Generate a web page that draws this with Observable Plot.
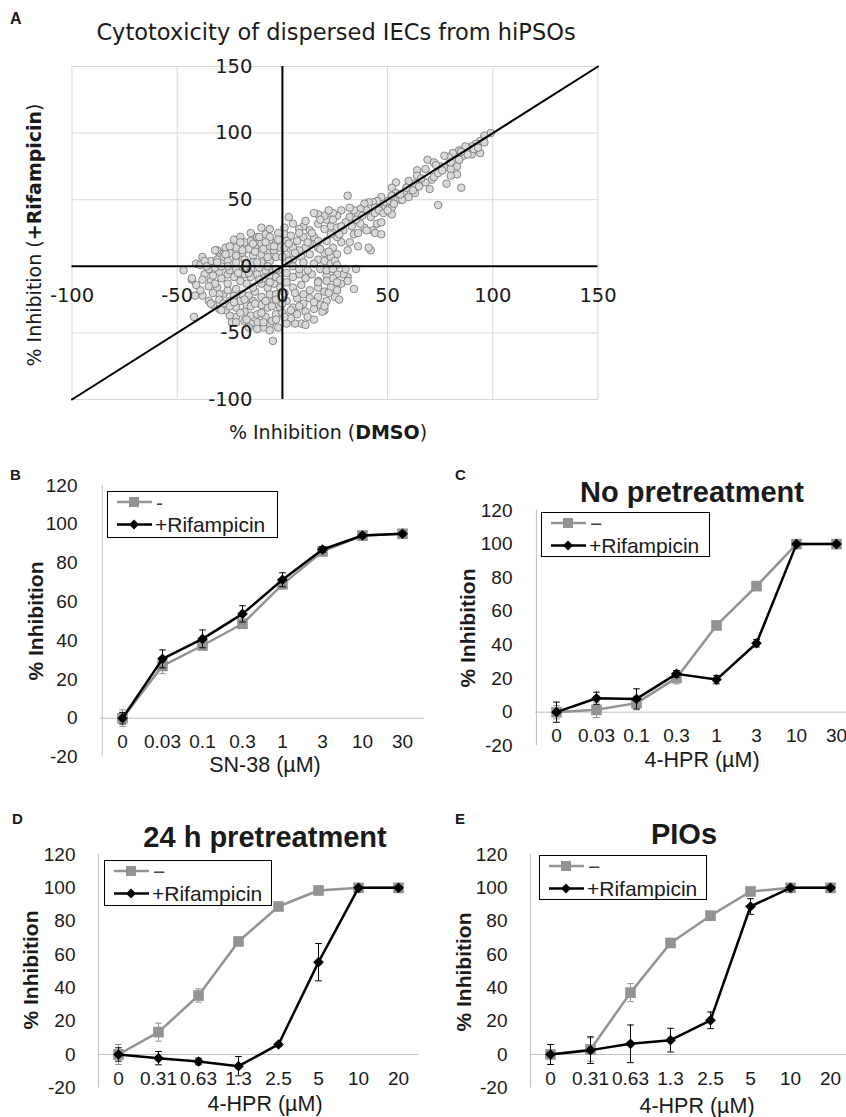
<!DOCTYPE html>
<html><head><meta charset="utf-8">
<script src="https://cdn.jsdelivr.net/npm/d3@7"></script>
<script src="https://cdn.jsdelivr.net/npm/@observablehq/plot@0.6"></script>
<style>
html,body{margin:0;padding:0;background:#fff;}
body{width:846px;height:1117px;position:relative;overflow:hidden;font-family:"Liberation Sans",Arial,sans-serif;color:#1a1a1a;}
.abs{position:absolute;line-height:1;white-space:nowrap;}
.c{transform:translate(-50%,-50%);}
.rot{transform:translate(-50%,-50%) rotate(-90deg);}
.plab{font-weight:bold;font-size:15px;}
.legend{position:absolute;border:1px solid #000;background:#fff;box-sizing:border-box;overflow:visible;}
</style></head><body>
<script>
// ---------- Panel A data: % inhibition (DMSO, +Rifampicin) ----------
const scatterPoints = [
[99,100],[96,98],[94,94],[92,92],[90,90],[88,89],[86,87],[84,87],[81,85],[79,82],[77,83],[94,85],[90,84],[86,83],[84,80],[83,75],[83,69],[85,59],[78,62],[74,46],
[69,80],[72,78],[75,75],[77,74],[80,73],[80,68],[70,58],[71,65],[68,73],[64,72],[64,68],[66,65],[63,62],[63,55],[60,64],[59,59],[58,54],[56,50],[54,63],[52,59],
[54,55],[52,53],[50,49],[48,47],[52,44],[52,39],[48,43],[47,52],[45,49],[43,48],[41,48],[39,47],[45,32],[47,33],[43,27],[42,12],[41,14],[44,44],[40,42],[37,43],
[36,39],[34,42],[31,53],[32,37],[30,33],[32,44],[28,42],[26,38],[24,40],[21,35],[20,38],[17,39],[15,40],[17,32],[23,30],[26,29],[29,27],[34,24],[36,25],[39,29],
[40,27],[44,25],[47,24],[32,18],[36,15],[31,12],[28,18],[26,22],[23,24],[21,19],[24,14],[26,9],[23,7],[20,10],[17,14],[15,22],[13,27],[10,30],[8,28],[5,32],
[3,37],[1,29],[1,24],[4,23],[7,19],[10,22],[13,17],[17,19],[11,14],[8,12],[5,14],[2,9],[5,5],[9,7],[13,9],[17,5],[20,4],[23,2],[25,4],[26,1],[22,42],
[31,-8],[29,-6],[26,-6],[24,-9],[21,-7],[17,-11],[14,-6],[11,-9],[8,-6],[5,-8],[2,-12],[5,-16],[9,-14],[13,-18],[17,-16],[20,-19],[23,-16],[26,-18],[28,-13],[31,-11],
[25,-23],[21,-26],[18,-29],[20,-33],[15,-32],[11,-34],[7,-36],[5,-31],[2,-26],[7,-24],[10,-28],[13,-24],[17,-23],[9,-43],[6,-43],[4,-39],[2,-43],[35,-2],[34,-17],[11,-44],
[19,-34],[20,-30],
[-4.5,-56],[-2,-46],[-6,-44],[-9,-46],[-12,-42],[-15,-43],[-18,-41],[-22,-38],[-25,-37],[-27,-33],[-30,-32],[-33,-29],[-35,-26],[-38,-22],[-39,-18],[-41,-14],[-42,-38],[-43,-10],[-47,-3],[-38,7],
[-41,2],[-37,-6],[-34,-11],[-31,-16],[-28,-21],[-25,-26],[-22,-31],[-18,-34],[-15,-37],[-12,-36],[-8,-38],[-5,-41],[-3,-36],[-1,-31],[-4,-26],[-7,-31],[-10,-29],[-14,-26],[-17,-29],[-20,-26],
[-23,-22],[-26,-18],[-30,-21],[-32,-13],[-29,-9],[-26,-13],[-22,-17],[-19,-21],[-16,-22],[-13,-19],[-10,-23],[-6,-21],[-3,-21],[-1,-16],[-4,-13],[-7,-16],[-10,-13],[-14,-16],[-17,-13],[-20,-11],
[-23,-8],[-26,-6],[-30,-4],[-33,-7],[-35,-2],[-32,-1],[-29,0],[-25,-3],[-22,-2],[-18,-6],[-15,-8],[-12,-6],[-9,-9],[-6,-7],[-3,-8],[-2,-3],[-5,-2],[-8,-3],[-11,-1],[-15,-2],
[-18,-1],[-43,-9],[-41.5,-22],[-24,-42],
[-10,29],[-23,20],[-30,10],[-34,4],[-28,7],[-25,10],[-22,14],[-18,18],[-15,19],[-12,22],[-8,24],[-6,22],[-2,25],[-3,18],[-6,15],[-10,17],[-13,14],[-16,13],[-19,10],[-22,7],
[-26,4],[-22,3],[-18,5],[-14,8],[-10,9],[-7,10],[-4,12],[-1,14],[-3,7],[-6,4],[-10,3],[-14,3],[-8,18],[-27,14],[-31,5],[0,7],[-20,22],[-15,25],[-6,28],[2,19],
[1,14],[3,4],[-31,12],[-39,1],[-37,4],
[-35,-15],[-30,-25],[-25,-30],[-20,-35],[-15,-30],[-10,-35],[-5,-30],[0,-35],[-38,-10],[-33,-20],[-28,-28],[-23,-27],[-18,-25],[-13,-28],[-8,-26],[-3,-25],[1,-20],[-36,0],[-31,3],[-26,0],
[-21,-5],[-16,-5],[-11,-10],[-6,-12],[-1,-10],[-3,-2],[-7,0],[-12,3],[-17,2],[-22,8],[-27,9],[-32,12],[-19,12],[-14,17],[-9,13],[-4,15],[-11,22],[-7,7],[-2,20],[-25,15],
[-20,18],[-13,11],[-34,-28],[-29,-33],[-22,-42],[-17,-40],[-9,-42],[-3,-40],[0,-28],[2,-5],[5,0],[8,-2],[12,-3],[15,2],[18,-2],[21,-3],[24,-2],[10,3],[6,10],[12,18],
[18,13],[22,11],[14,25],[20,28],[27,24],[8,25],[3,17],[6,-20],[10,-21],[15,-27],[17,-12],[21,-11],[22,-20],[26,-12],[12,-38],[15,-40],[8,-30],[4,-33],[1,-38],[-6,-48],
[-12,-47],[-16,-46],[27,-25],[30,-2],[33,30],[37,32],[35,35],[28,30],[24,35],[18,35],[11,34],[38,38],[42,37],[44,40],[46,42],[48,40],[50,42],[53,47],[57,50],[60,52],
[62,57],[65,60],[68,63],[72,67],[74,70],[76,72],[80,78],[84,80],[88,84],[91,88],[93,89],[96,93],[59,59],[56,54],[66,66],[87,90],[85,86],[73,76]
];
const ticksA = [-100, -50, 0, 50, 100, 150];
const gridA = [-100, -50, 50, 100, 150];
const diagonalA = [-100, 150];

// ---------- Panels B–E data ----------
const yTicksBE = [-20, 0, 20, 40, 60, 80, 100, 120];
const catsSN38 = ["0", "0.03", "0.1", "0.3", "1", "3", "10", "30"];
const B_minus = [0, 27, 37.5, 48.7, 69, 86, 94.2, 95.1];
const B_minusErr = [4.3, 4, 2, 2, 2, 1.5, 1, 1];
const B_rif = [0, 30.6, 40.9, 53.8, 71.4, 87, 94.2, 95.1];
const B_rifErr = [3, 4.6, 4.6, 4.2, 3.6, 1.5, 1.2, 1];

const catsC = ["0", "0.03", "0.1", "0.3", "1", "3", "10", "30"];
const C_minus = [0, 1.4, 5.4, 20.4, 51.6, 75, 100, 100];
const C_minusErr = [4, 4.6, 4, 3.6, 1.5, 1.5, 1, 1];
const C_rif = [0, 8.3, 7.9, 22.8, 19.4, 41, 100, 100];
const C_rifErr = [6, 3.6, 6, 2, 2.5, 2.2, 1, 1];

const catsD = ["0", "0.31", "0.63", "1.3", "2.5", "5", "10", "20"];
const D_minus = [0, 13.4, 35.4, 67.8, 88.8, 98.4, 100, 100];
const D_minusErr = [6, 5.4, 4, 1.5, 1, 1, 0.5, 0.5];
const D_rif = [0, -2.2, -4.2, -7, 6, 55.4, 100, 100];
const D_rifErr = [4, 4, 2, 5.8, 1, 11.2, 0.5, 0.5];

const catsE = ["0", "0.31", "0.63", "1.3", "2.5", "5", "10", "20"];
const E_minus = [0, 3, 37.1, 66.9, 83.3, 97.8, 100, 100];
const E_minusErr = [6, 7, 5.4, 2, 1, 1, 0.5, 0.5];
const E_rif = [0, 2.6, 6.4, 8.6, 20.5, 88.8, 100, 100];
const E_rifErr = [6, 8, 11.3, 7.1, 5, 4.7, 0.5, 0.5];

const grayColor = "#939393";
const cap = {draw(ctx, size) { const w = 3.3; ctx.moveTo(-w, 0); ctx.lineTo(w, 0); }};

function place(svg, left, top, width) {
  const d = document.createElement("div");
  d.style.position = "absolute"; d.style.left = left + "px"; d.style.top = top + "px"; d.style.width = width + "px";
  d.appendChild(svg); document.body.appendChild(d);
}
function text(html, x, y, cls, style) {
  const d = document.createElement("div");
  d.className = "abs " + cls; d.innerHTML = html;
  d.style.left = x + "px"; d.style.top = y + "px";
  Object.assign(d.style, style || {});
  document.body.appendChild(d);
}

// ---------- Panel A ----------
const plotA = Plot.plot({
  width: 620, height: 445,
  marginLeft: 71.5, marginRight: 22.5, marginTop: 66, marginBottom: 46,
  x: {domain: [-100, 150], axis: null},
  y: {domain: [-100, 150], axis: null},
  style: {fontFamily: "DejaVu Sans", fontSize: "19.5px", background: "none", maxWidth: "none", overflow: "visible", color: "#1a1a1a"},
  marks: [
    Plot.ruleX(gridA, {x: d => d, stroke: "#d9d9d9", strokeWidth: 1}),
    Plot.ruleY(gridA, {y: d => d, stroke: "#d9d9d9", strokeWidth: 1}),
    Plot.dot(scatterPoints, {x: d => d[0], y: d => d[1], r: 3.8, fill: "#d9d9d9", stroke: "#6e6e6e", strokeWidth: 0.8}),
    Plot.ruleX([0], {stroke: "#000", strokeWidth: 2}),
    Plot.ruleY([0], {stroke: "#000", strokeWidth: 2}),
    Plot.line(diagonalA, {x: d => d, y: d => d, stroke: "#000", strokeWidth: 2}),
    Plot.text(ticksA, {x: () => 0, y: d => d, dx: -30, textAnchor: "end", text: d => String(d), fill: "#1a1a1a"}),
    Plot.text(ticksA, {x: d => d, y: () => 0, dy: 29.5, text: d => String(d), fill: "#1a1a1a"})
  ]
});
place(plotA, 0, 0, 620);
text("A", 10, 11, "plab", {fontSize: "16px"});
text("Cytotoxicity of dispersed IECs from hiPSOs", 336, 32, "c", {fontFamily: "DejaVu Sans", fontSize: "22.5px"});
text("% Inhibition (<b>+Rifampicin</b>)", 33.5, 234.5, "rot", {fontFamily: "DejaVu Sans", fontSize: "19px"});
text("% Inhibition (<b>DMSO</b>)", 328, 432, "c", {fontFamily: "DejaVu Sans", fontSize: "19px"});

// ---------- Panels B–E ----------
function seriesMarks(rows, vKey, eKey, color, symbol, r) {
  return [
    Plot.ruleX(rows, {x: "c", y1: d => d[vKey] - d[eKey], y2: d => d[vKey] + d[eKey], stroke: color, strokeWidth: 1}),
    Plot.dot(rows, {x: "c", y: d => d[vKey] + d[eKey], symbol: cap, r: 3, stroke: color, fill: "none", strokeWidth: 1}),
    Plot.dot(rows, {x: "c", y: d => d[vKey] - d[eKey], symbol: cap, r: 3, stroke: color, fill: "none", strokeWidth: 1}),
    Plot.line(rows, {x: "c", y: vKey, stroke: color, strokeWidth: 2.5}),
    Plot.dot(rows, {x: "c", y: vKey, symbol, r, fill: color, stroke: "none"})
  ];
}
function panel(cfg) {
  const rows = cfg.cats.map((c, i) => ({c, g: cfg.minus[i], ge: cfg.minusErr[i], b: cfg.rif[i], be: cfg.rifErr[i]}));
  const step = (cfg.width - cfg.mL - cfg.mR) / cfg.cats.length;
  const p = Plot.plot({
    width: cfg.width, height: cfg.height,
    marginLeft: cfg.mL, marginRight: cfg.mR, marginTop: cfg.mT, marginBottom: cfg.mB,
    x: {type: "point", domain: cfg.cats, padding: 0.5, axis: null},
    y: {domain: [-20, 120], ticks: yTicksBE, tickSize: 0, tickPadding: 23, label: null, tickFormat: d => String(d)},
    style: {fontFamily: "Liberation Sans", fontSize: "19px", background: "none", maxWidth: "none", overflow: "visible", color: "#1a1a1a"},
    marks: [
      Plot.ruleX([cfg.cats[0]], {x: d => d, y1: () => -20, y2: () => 120, dx: -step / 2, stroke: "#bfbfbf", strokeWidth: 1}),
      Plot.ruleY([0], {stroke: "#bfbfbf", strokeWidth: 1}),
      Plot.text(cfg.cats, {x: d => d, y: () => 0, dy: 24, text: d => d, fill: "#1a1a1a"}),
      ...seriesMarks(rows, "g", "ge", grayColor, "square", 6),
      ...seriesMarks(rows, "b", "be", "#000", "diamond2", 4.8)
    ]
  });
  place(p, cfg.left, cfg.top, cfg.width);
}
function legend(x, y, w, h, dash, fs) {
  const d = document.createElement("div");
  d.className = "legend";
  Object.assign(d.style, {left: x + "px", top: y + "px", width: w + "px", height: h + "px"});
  const ns = "http://www.w3.org/2000/svg";
  const s = document.createElementNS(ns, "svg");
  s.setAttribute("width", w); s.setAttribute("height", h);
  s.style.overflow = "visible"; s.style.position = "absolute"; s.style.left = "-1px"; s.style.top = "-1px";
  s.innerHTML =
    `<line x1="10" x2="45" y1="11" y2="11" stroke="${grayColor}" stroke-width="2.5"/>` +
    `<rect x="22" y="6" width="10" height="10" fill="${grayColor}"/>` +
    `<line x1="10" x2="45" y1="33.5" y2="33.5" stroke="#000" stroke-width="2.5"/>` +
    `<path d="M27,28.5L32,33.5L27,38.5L22,33.5Z" fill="#000"/>` +
    `<text x="49" y="11" dy="0.36em" font-family="Liberation Sans" font-size="${fs}" fill="#444">${dash}</text>` +
    `<text x="48" y="33.5" dy="0.36em" font-family="Liberation Sans" font-size="${fs}" fill="#1a1a1a">+Rifampicin</text>`;
  d.appendChild(s);
  document.body.appendChild(d);
}

// B
panel({cats: catsSN38, minus: B_minus, minusErr: B_minusErr, rif: B_rif, rifErr: B_rifErr,
  left: 0, top: 440, width: 430, height: 340, mL: 100, mR: 6, mT: 45, mB: 23.5});
legend(107, 491, 171, 47, "-", "21px");
text("B", 10, 467, "plab");
text("% Inhibition", 35, 621, "rot", {fontWeight: "bold", fontSize: "21px"});
text("SN-38 (µM)", 265, 766, "c", {fontSize: "21.5px"});

// C
panel({cats: catsC, minus: C_minus, minusErr: C_minusErr, rif: C_rif, rifErr: C_rifErr,
  left: 420, top: 440, width: 440, height: 340, mL: 115, mR: 3.4, mT: 70, mB: 34.7});
legend(541, 512, 169, 45, "−", "21px");
text("C", 455, 467, "plab");
text("No pretreatment", 692, 492, "c", {fontWeight: "bold", fontSize: "29px"});
text("% Inhibition", 467, 628, "rot", {fontWeight: "bold", fontSize: "21px"});
text("4-HPR (µM)", 702, 761, "c", {fontSize: "21.5px"});

// D
panel({cats: catsD, minus: D_minus, minusErr: D_minusErr, rif: D_rif, rifErr: D_rifErr,
  left: 0, top: 780, width: 430, height: 337, mL: 98, mR: 12, mT: 74, mB: 29.7});
legend(104, 860, 168, 46, "−", "21px");
text("D", 12, 811, "plab");
text("24 h pretreatment", 265, 837, "c", {fontWeight: "bold", fontSize: "29px"});
text("% Inhibition", 30, 970, "rot", {fontWeight: "bold", fontSize: "21px"});
text("4-HPR (µM)", 265, 1105, "c", {fontSize: "21.5px"});

// E
panel({cats: catsE, minus: E_minus, minusErr: E_minusErr, rif: E_rif, rifErr: E_rifErr,
  left: 420, top: 780, width: 440, height: 337, mL: 110, mR: 10, mT: 74, mB: 29.7});
legend(539, 855, 168, 45, "−", "21px");
text("E", 455, 811, "plab");
text("PIOs", 684, 834, "c", {fontWeight: "bold", fontSize: "29px"});
text("% Inhibition", 463, 972, "rot", {fontWeight: "bold", fontSize: "21px"});
text("4-HPR (µM)", 697, 1107, "c", {fontSize: "21.5px"});
</script>
</body></html>
